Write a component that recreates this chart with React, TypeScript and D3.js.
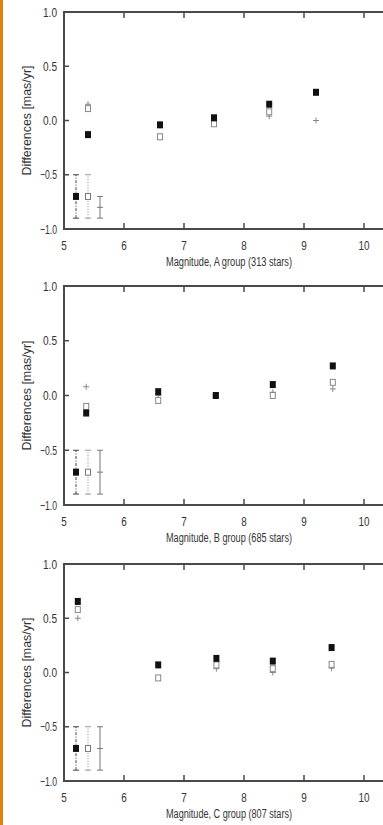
import React, { useEffect, useRef } from "react";
import * as d3 from "d3";

// x ticks and y ticks shared by the three panels
const xTicks = [5, 6, 7, 8, 9, 10];
const yTicks = [1.0, 0.5, 0.0, -0.5, -1.0];

// group titles
const groupLabels = [
  "Magnitude, A group (313 stars)",
  "Magnitude, B group (685 stars)",
  "Magnitude, C group (807 stars)",
];

// filled squares
const filledA = [[5.4, -0.13], [6.6, -0.04], [7.5, 0.025], [8.42, 0.15], [9.2, 0.26]];
const filledB = [[5.37, -0.16], [6.57, 0.035], [7.53, 0.0], [8.48, 0.1], [9.48, 0.27]];
const filledC = [[5.23, 0.655], [6.57, 0.07], [7.54, 0.13], [8.48, 0.105], [9.46, 0.23]];

// open squares
const openA = [[5.4, 0.11], [6.6, -0.15], [7.5, -0.03], [8.42, 0.08]];
const openB = [[5.37, -0.1], [6.57, -0.045], [7.53, 0.0], [8.48, 0.0], [9.48, 0.12]];
const openC = [[5.23, 0.58], [6.57, -0.05], [7.54, 0.07], [8.48, 0.035], [9.46, 0.075]];

// crosses
const plusA = [[5.4, 0.15], [8.42, 0.04], [9.2, 0.0]];
const plusB = [[5.37, 0.08], [6.57, 0.0], [7.53, 0.0], [8.48, 0.03], [9.48, 0.06]];
const plusC = [[5.23, 0.5], [7.54, 0.035], [8.48, 0.0], [9.46, 0.04]];

// error bar keys: [x, centre, low, high]
const errA = [[5.2, -0.7, -0.9, -0.5], [5.4, -0.7, -0.9, -0.5], [5.6, -0.8, -0.9, -0.7]];
const errB = [[5.2, -0.7, -0.9, -0.5], [5.4, -0.7, -0.9, -0.5], [5.6, -0.7, -0.9, -0.5]];
const errC = [[5.2, -0.7, -0.9, -0.5], [5.4, -0.7, -0.9, -0.5], [5.6, -0.7, -0.9, -0.5]];

const panels = [
  { label: groupLabels[0], filled: filledA, open: openA, plus: plusA, err: errA, top: 12, bottom: 229 },
  { label: groupLabels[1], filled: filledB, open: openB, plus: plusB, err: errB, top: 286, bottom: 505 },
  { label: groupLabels[2], filled: filledC, open: openC, plus: plusC, err: errC, top: 564, bottom: 781 },
];

const FONT = "'Liberation Sans Narrow', 'Arial Narrow', 'Liberation Sans', sans-serif";

export default function App() {
  const ref = useRef(null);

  useEffect(() => {
    const svg = d3.select(ref.current);
    svg.selectAll("*").remove();

    svg.append("rect").attr("width", 383).attr("height", 825).attr("fill", "#fff");
    svg.append("rect").attr("x", 0).attr("y", 0).attr("width", 3).attr("height", 825).attr("fill", "#e0800e");

    const x = d3.scaleLinear().domain([5, 10]).range([64, 364]);
    const frame = "#4a4a4a";
    const errStyles = [
      { stroke: "#444", dash: "3,1.5,1,1.5" },
      { stroke: "#999", dash: "1.2,1.5" },
      { stroke: "#777", dash: null },
    ];

    panels.forEach(p => {
      const y = d3.scaleLinear().domain([-1, 1]).range([p.bottom, p.top]);
      const g = svg.append("g");

      // frame lines
      g.append("line").attr("x1", 64).attr("x2", 64).attr("y1", p.top - 1).attr("y2", p.bottom + 1)
        .attr("stroke", frame).attr("stroke-width", 2);
      g.append("line").attr("x1", 63).attr("x2", 383).attr("y1", p.top).attr("y2", p.top)
        .attr("stroke", frame).attr("stroke-width", 2);
      g.append("line").attr("x1", 63).attr("x2", 383).attr("y1", p.bottom).attr("y2", p.bottom)
        .attr("stroke", frame).attr("stroke-width", 2);

      // x ticks
      xTicks.slice(1).forEach(t => {
        g.append("line").attr("x1", x(t)).attr("x2", x(t)).attr("y1", p.top).attr("y2", p.top + 6)
          .attr("stroke", frame).attr("stroke-width", 1.5);
        g.append("line").attr("x1", x(t)).attr("x2", x(t)).attr("y1", p.bottom).attr("y2", p.bottom - 6)
          .attr("stroke", frame).attr("stroke-width", 1.5);
      });
      g.selectAll(".xl").data(xTicks).join("text")
        .attr("x", d => x(d)).attr("y", p.bottom + 21)
        .attr("text-anchor", "middle").attr("font-family", FONT).attr("font-size", 12.5).attr("fill", "#333")
        .attr("textLength", d => (d >= 10 ? 11 : 5.5)).attr("lengthAdjust", "spacingAndGlyphs")
        .text(d => d);

      // y ticks
      yTicks.slice(1, 4).forEach(t => {
        g.append("line").attr("x1", 64).attr("x2", 69).attr("y1", y(t)).attr("y2", y(t))
          .attr("stroke", frame).attr("stroke-width", 1.5);
      });
      g.selectAll(".yl").data(yTicks).join("text")
        .attr("x", 57).attr("y", d => y(d) + 4.5)
        .attr("text-anchor", "end").attr("font-family", FONT).attr("font-size", 12.5).attr("fill", "#333")
        .attr("textLength", d => (d < 0 ? 17 : 14)).attr("lengthAdjust", "spacingAndGlyphs")
        .text(d => d3.format(".1f")(d));

      // axis titles
      g.append("text").attr("x", 166).attr("y", p.bottom + 37)
        .attr("font-family", FONT).attr("font-size", 12.5).attr("fill", "#333")
        .attr("textLength", 126).attr("lengthAdjust", "spacingAndGlyphs")
        .text(p.label);
      const mid = (p.top + p.bottom) / 2;
      g.append("text")
        .attr("transform", `translate(31,${mid + 55}) rotate(-90)`)
        .attr("font-family", FONT).attr("font-size", 12.5).attr("fill", "#333")
        .attr("textLength", 110).attr("lengthAdjust", "spacingAndGlyphs")
        .text("Differences [mas/yr]");

      // error bar keys
      p.err.forEach((e, i) => {
        const st = errStyles[i];
        const eg = g.append("g").attr("stroke", st.stroke).attr("stroke-width", 1);
        eg.append("line").attr("x1", x(e[0])).attr("x2", x(e[0])).attr("y1", y(e[2])).attr("y2", y(e[3]))
          .attr("stroke-dasharray", st.dash);
        [e[2], e[3]].forEach(v => {
          eg.append("line").attr("x1", x(e[0]) - 3).attr("x2", x(e[0]) + 3).attr("y1", y(v)).attr("y2", y(v));
        });
        if (i === 0) {
          g.append("rect").attr("x", x(e[0]) - 3).attr("y", y(e[1]) - 3.5).attr("width", 6).attr("height", 7).attr("fill", "#111");
        } else if (i === 1) {
          g.append("rect").attr("x", x(e[0]) - 2.5).attr("y", y(e[1]) - 3).attr("width", 5).attr("height", 6)
            .attr("fill", "#fff").attr("stroke", "#777").attr("stroke-width", 1);
        } else {
          g.append("line").attr("x1", x(e[0]) - 3).attr("x2", x(e[0]) + 3).attr("y1", y(e[1])).attr("y2", y(e[1]))
            .attr("stroke", st.stroke).attr("stroke-width", 1);
        }
      });

      // crosses
      const pl = g.selectAll(".pl").data(p.plus).join("g").attr("stroke", "#888").attr("stroke-width", 1);
      pl.append("line").attr("x1", d => x(d[0]) - 3).attr("x2", d => x(d[0]) + 3).attr("y1", d => y(d[1])).attr("y2", d => y(d[1]));
      pl.append("line").attr("x1", d => x(d[0])).attr("x2", d => x(d[0])).attr("y1", d => y(d[1]) - 3).attr("y2", d => y(d[1]) + 3);

      // open squares
      g.selectAll(".op").data(p.open).join("rect")
        .attr("x", d => x(d[0]) - 2.5).attr("y", d => y(d[1]) - 3).attr("width", 5).attr("height", 6)
        .attr("fill", "#fff").attr("stroke", "#888").attr("stroke-width", 1);

      // filled squares
      g.selectAll(".fl").data(p.filled).join("rect")
        .attr("x", d => x(d[0]) - 3).attr("y", d => y(d[1]) - 3.5).attr("width", 6).attr("height", 7)
        .attr("fill", "#111");
    });
  }, []);

  return (
    <svg ref={ref} width={383} height={825} style={{ position: "absolute", left: 0, top: 0 }} />
  );
}
